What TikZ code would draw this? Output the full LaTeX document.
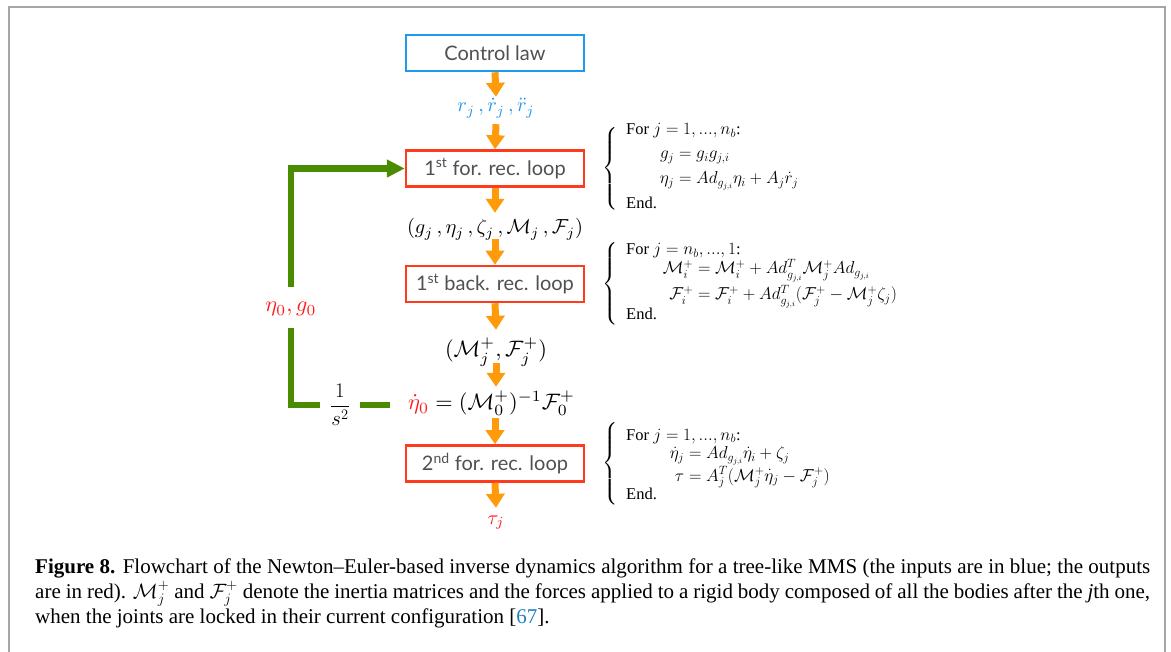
\documentclass[tikz,border=0pt]{standalone}
\usepackage{amsmath}
\usepackage[no-math]{fontspec}
\setmainfont{Liberation Serif}
\newfontfamily\boxfont{Lato}
\usetikzlibrary{arrows.meta}
\definecolor{cblue}{HTML}{1E9BEA}
\definecolor{cred}{HTML}{FF3B1E}
\definecolor{corange}{HTML}{FF9A0A}
\definecolor{cgreen}{HTML}{4A8C00}
\definecolor{tred}{HTML}{FF1A1A}
\definecolor{tblue}{HTML}{2196F3}
\definecolor{framegray}{HTML}{A6A6A6}
\definecolor{txtgray}{HTML}{505050}
\definecolor{linkblue}{HTML}{1F7FC0}
\begin{document}
\begin{tikzpicture}[x=1pt,y=-1pt,
  box/.style={draw=cred, line width=2.5pt, minimum width=178pt, minimum height=36pt, inner sep=0pt,
    font=\boxfont\fontsize{20}{23}\selectfont, text=txtgray},
  flow/.style={draw=corange, line width=7pt, -{Triangle[width=18pt,length=14pt]}},
  fb/.style={draw=cgreen, line width=6.5pt},
  lab/.style={inner sep=0pt, anchor=base},
  blk/.style={inner sep=0pt, anchor=base west, font=\fontsize{16.5}{19}\selectfont},
  brc/.style={inner sep=0pt, font=\fontsize{18}{21}\selectfont},
  captext/.style={inner sep=0pt, anchor=base west, font=\fontsize{21}{25}\selectfont}]
\useasboundingbox (0,0) rectangle (1171,652);
\fill[white] (0,0) rectangle (1171,652);
\draw[framegray, line width=2pt] (8.5,660) -- (8.5,7.5) -- (1165,7.5) -- (1165,660);

% boxes
\node[box, draw=cblue] (cl) at (495,53) {Control law};
\node[box] (f1) at (495,168.5) {1\textsuperscript{st} for. rec. loop};
\node[box] (b1) at (495,284) {1\textsuperscript{st} back. rec. loop};
\node[box] (f2) at (495,463.5) {2\textsuperscript{nd} for. rec. loop};

% flow labels
\node[lab, text height=15pt, text depth=12pt] (rj) at (496,112)
  {\resizebox{77pt}{!}{$\color{tblue} r_j\,,\dot r_j\,,\ddot r_j$}};
\node[lab, text height=21pt, text depth=5pt] (gl) at (495,234)
  {\resizebox{176pt}{!}{$(g_j\,,\eta_j\,,\zeta_j\,,\mathcal{M}_j\,,\mathcal{F}_j)$}};
\node[lab, text height=27pt, text depth=6pt] (mf) at (496,357)
  {\resizebox{102pt}{!}{$(\mathcal{M}_j^+,\mathcal{F}_j^+)$}};
\node[lab, text height=23pt, text depth=8pt] (eq) at (491.5,410)
  {\resizebox{167pt}{!}{$\color{tred}\dot\eta_0\color{black} = (\mathcal{M}_0^+)^{-1}\mathcal{F}_0^+$}};
\node[lab, text height=16pt, text depth=2pt] (tau) at (496,524)
  {\resizebox{17pt}{!}{$\color{tred}\tau_j$}};

% flow arrows
\draw[flow] (cl.south) -- (rj.north);
\draw[flow] (rj.south) -- (f1.north);
\draw[flow] (f1.south) -- (gl.north);
\draw[flow] (gl.south) -- (b1.north);
\draw[flow] (b1.south) -- (mf.north);
\draw[flow] (mf.south) -- (mf.south |- eq.north);
\draw[flow] (f2.north |- eq.south) -- (f2.north);
\draw[flow] (f2.south) -- (tau.north);

% feedback
\node[lab, text height=25pt, text depth=16pt] (etag) at (291,312)
  {\resizebox{51pt}{!}{$\color{tred}\eta_0, g_0$}};
\node[inner sep=0pt, minimum width=40pt, font=\fontsize{22}{26}\selectfont] (s2) at (340,405) {$\dfrac{1}{s^2}$};
\draw[fb, -{Triangle[width=17pt,length=18pt]}] (etag.north) |- (f1.west);
\draw[fb] (etag.south) |- (s2.west);
\draw[fb, shorten >=18pt] (s2.east) -- (s2.east -| eq.west);

% block 1
\node[brc] (br1) at (611,168.5) {$\left\{\vrule height 44pt depth 34pt width 0pt\right.$};
\node[blk] (a1) at (626,135) {For $j=1,...,n_b$:};
\node[blk] (a2) at (626,159) {$\makebox[48pt][r]{$g_j$} = g_ig_{j,i}$};
\node[blk] (a3) at (626,184) {$\makebox[48pt][r]{$\eta_j$} = Ad_{g_{j,i}}\eta_i+A_j\dot r_j$};
\node[blk] (a4) at (626,209) {End.};

% block 2
\node[brc] (br2) at (611,284) {$\left\{\vrule height 44pt depth 34pt width 0pt\right.$};
\node[blk] (c1) at (626,255) {For $j=n_b,...,1$:};
\node[blk] (c2) at (626,274) {$\makebox[67pt][r]{$\mathcal{M}_i^+$} = \mathcal{M}_i^+ + Ad_{g_{j,i}}^T\mathcal{M}_j^+Ad_{g_{j,i}}$};
\node[blk] (c3) at (626,300) {$\makebox[67pt][r]{$\mathcal{F}_i^+$} = \mathcal{F}_i^+ + Ad_{g_{j,i}}^T(\mathcal{F}_j^+-\mathcal{M}_j^+\zeta_j)$};
\node[blk] (c4) at (626,320) {End.};

% block 3
\node[brc] (br3) at (611,463.5) {$\left\{\vrule height 44pt depth 34pt width 0pt\right.$};
\node[blk] (d1) at (626,440) {For $j=1,...,n_b$:};
\node[blk] (d2) at (626,459) {$\makebox[58pt][r]{$\dot\eta_j$} = Ad_{g_{j,i}}\dot\eta_i+\zeta_j$};
\node[blk] (d3) at (626,481) {$\makebox[58pt][r]{$\tau$} = A_j^T(\mathcal{M}_j^+\dot\eta_j-\mathcal{F}_j^+)$};
\node[blk] (d4) at (626,500) {End.};

% caption
\node[captext] (cap1) at (35,573)
  {\makebox[1115pt][s]{\textbf{Figure 8.} Flowchart of the Newton–Euler-based inverse dynamics algorithm for a tree-like MMS (the inputs are in blue; the outputs}};
\node[captext] (cap2) at (35,598)
  {\makebox[1115pt][s]{are in red). $\mathcal{M}_j^+$ and $\mathcal{F}_j^+$ denote the inertia matrices and the forces applied to a rigid body composed of all the bodies after the \textit{j}th one,}};
\node[captext] (cap3) at (35,623)
  {when the joints are locked in their current configuration [\textcolor{linkblue}{67}].};
\end{tikzpicture}
\end{document}
